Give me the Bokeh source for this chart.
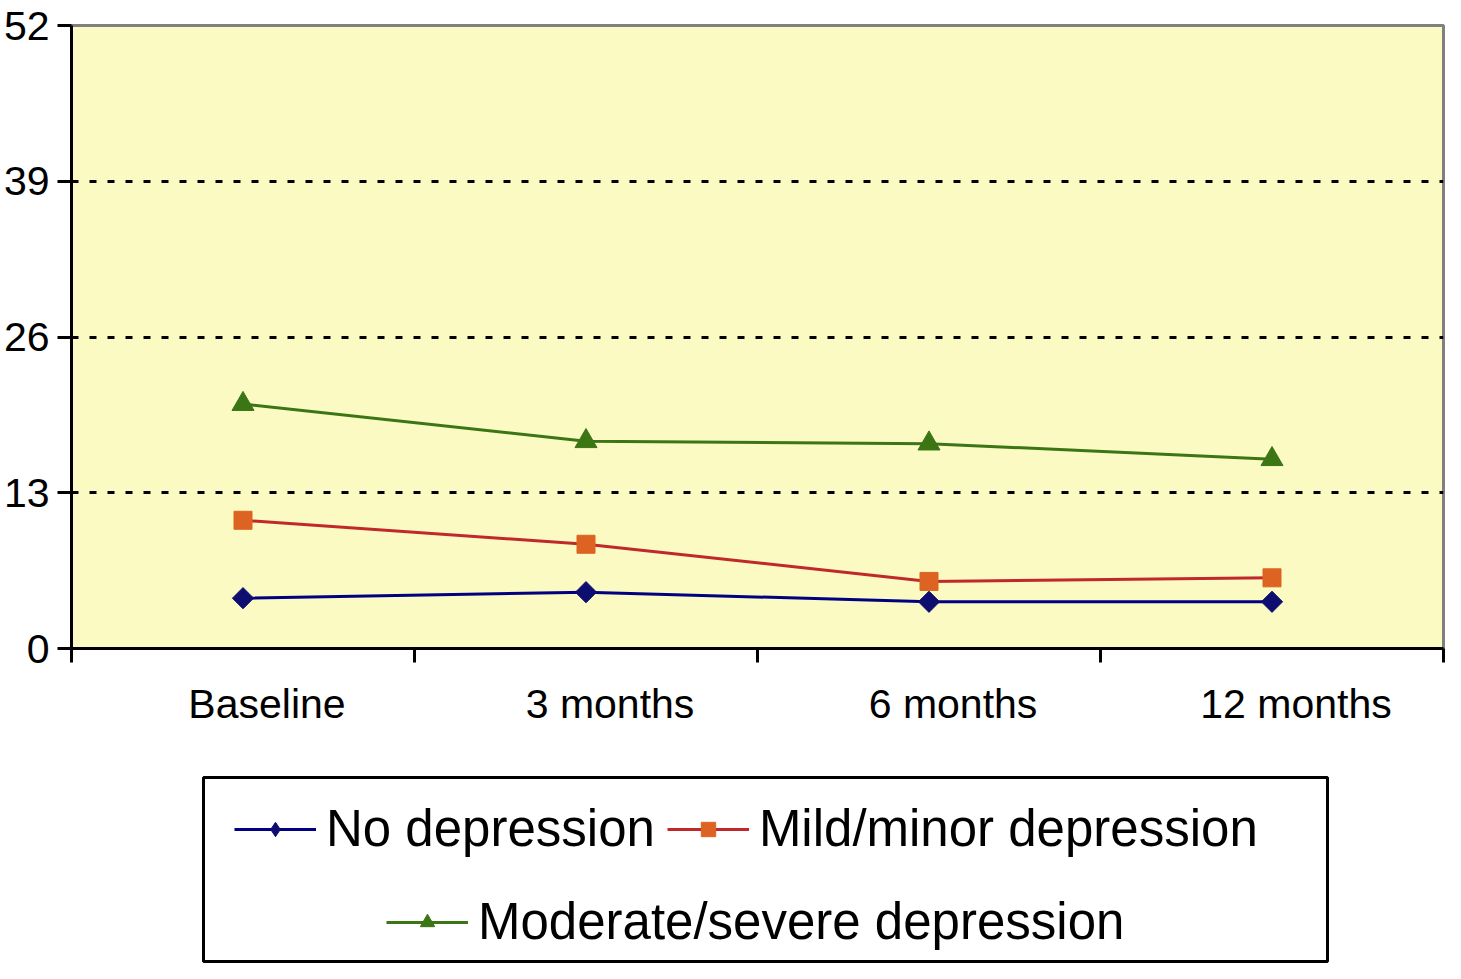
import math
from bokeh.plotting import figure
from bokeh.models import Range1d, LinearAxis, FixedTicker, Legend, LegendItem
from bokeh.layouts import column
from bokeh.embed import file_html
from bokeh.resources import INLINE

# ---- data ----
categories = ["Baseline", "3 months", "6 months", "12 months"]
no_depression = [4.2, 4.7, 3.9, 3.9]
mild_minor = [10.7, 8.7, 5.6, 5.9]
moderate_severe = [20.4, 17.3, 17.1, 15.8]
y_ticks = [0, 13, 26, 39, 52]
series_names = ["No depression", "Mild/minor depression", "Moderate/severe depression"]

# ---- styles ----
FONT = "Liberation Sans"
n = len(categories)
x = list(range(n))
label_offset = 0.07

series = [
    dict(y=no_depression, line="#000080", fill="#0E0E70", marker="square", angle=math.pi / 4, size=15, lmarker="diamond"),
    dict(y=mild_minor, line="#C0282A", fill="#DD6322", marker="square", angle=0, size=18, lmarker="square"),
    dict(y=moderate_severe, line="#3B7514", fill="#3B7514", marker="triangle", angle=0, size=22, lmarker="triangle"),
]

p = figure(width=1445, height=760, output_backend="svg", toolbar_location=None,
           x_range=Range1d(-0.5, n - 0.5), y_range=Range1d(0, 52),
           x_axis_location=None,
           min_border_left=70, min_border_right=2, min_border_top=25, min_border_bottom=112)
p.frame_align = False
p.background_fill_color = "#FAFAC2"
p.border_fill_color = "white"
p.outline_line_color = "#808080"
p.outline_line_width = 3

# y axis
ya = p.yaxis[0]
ya.ticker = FixedTicker(ticks=y_ticks)
ya.major_tick_out = 14
ya.major_tick_in = 0
ya.major_tick_line_width = 3
ya.major_tick_line_color = "black"
ya.minor_tick_line_color = None
ya.axis_line_width = 3
ya.axis_line_color = "black"
ya.major_label_text_font = FONT
ya.major_label_text_font_size = "41px"
ya.major_label_text_color = "black"
ya.major_label_standoff = 8

# x axis (labels slightly right of category centres, ticks at boundaries)
p.extra_x_ranges = {"labels": Range1d(-0.5 - label_offset, n - 0.5 - label_offset)}
xa = LinearAxis(x_range_name="labels",
                ticker=FixedTicker(ticks=list(range(n)),
                                   minor_ticks=[k - 0.5 - label_offset for k in range(n + 1)]),
                major_label_overrides={i: c for i, c in enumerate(categories)})
xa.major_tick_out = 0
xa.major_tick_in = 0
xa.minor_tick_out = 14
xa.minor_tick_in = 0
xa.minor_tick_line_width = 3
xa.minor_tick_line_color = "black"
xa.axis_line_width = 3
xa.axis_line_color = "black"
xa.major_label_text_font = FONT
xa.major_label_text_font_size = "41px"
xa.major_label_text_color = "black"
xa.major_label_standoff = 18
p.add_layout(xa, "below")

p.xgrid.visible = False
p.ygrid.ticker = FixedTicker(ticks=y_ticks)
p.ygrid.grid_line_color = "black"
p.ygrid.grid_line_dash = "7 11"
p.ygrid.grid_line_width = 3

for s in series:
    p.line(x, s["y"], line_color=s["line"], line_width=3)
    p.scatter(x, s["y"], marker=s["marker"], angle=s["angle"], size=s["size"],
              fill_color=s["fill"], line_color=s["fill"])

# ---- legend figure ----
q = figure(width=1445, height=203, output_backend="svg", toolbar_location=None,
           x_range=Range1d(-0.5, n - 0.5), y_range=Range1d(1000, 1001),
           x_axis_location=None, y_axis_location=None,
           min_border_left=203, min_border_right=118, min_border_top=17, min_border_bottom=2)
q.frame_align = False
q.grid.visible = False
q.background_fill_color = "white"
q.border_fill_color = "white"
q.outline_line_color = "black"
q.outline_line_width = 3

items = []
for s, name in zip(series, series_names):
    lr = q.line(x, s["y"], line_color=s["line"], line_width=3)
    sr = q.scatter(x, s["y"], marker=s["lmarker"], size=s["size"],
                   fill_color=s["fill"], line_color=s["fill"])
    items.append(LegendItem(label=name, renderers=[lr, sr]))

def make_legend(its, loc):
    lg = Legend(items=its, location=loc, orientation="horizontal")
    lg.glyph_width = 82
    lg.glyph_height = 36
    lg.label_standoff = 10
    lg.spacing = 12
    lg.padding = 0
    lg.margin = 0
    lg.label_text_font = FONT
    lg.label_text_font_size = "51px"
    lg.label_text_color = "black"
    lg.border_line_alpha = 0
    lg.background_fill_alpha = 0
    return lg

q.add_layout(make_legend(items[:2], (31, 103)))
q.add_layout(make_legend(items[2:], (183, 10)))

layout = column(p, q, spacing=0)
open("out.html", "w").write(file_html(layout, INLINE))
